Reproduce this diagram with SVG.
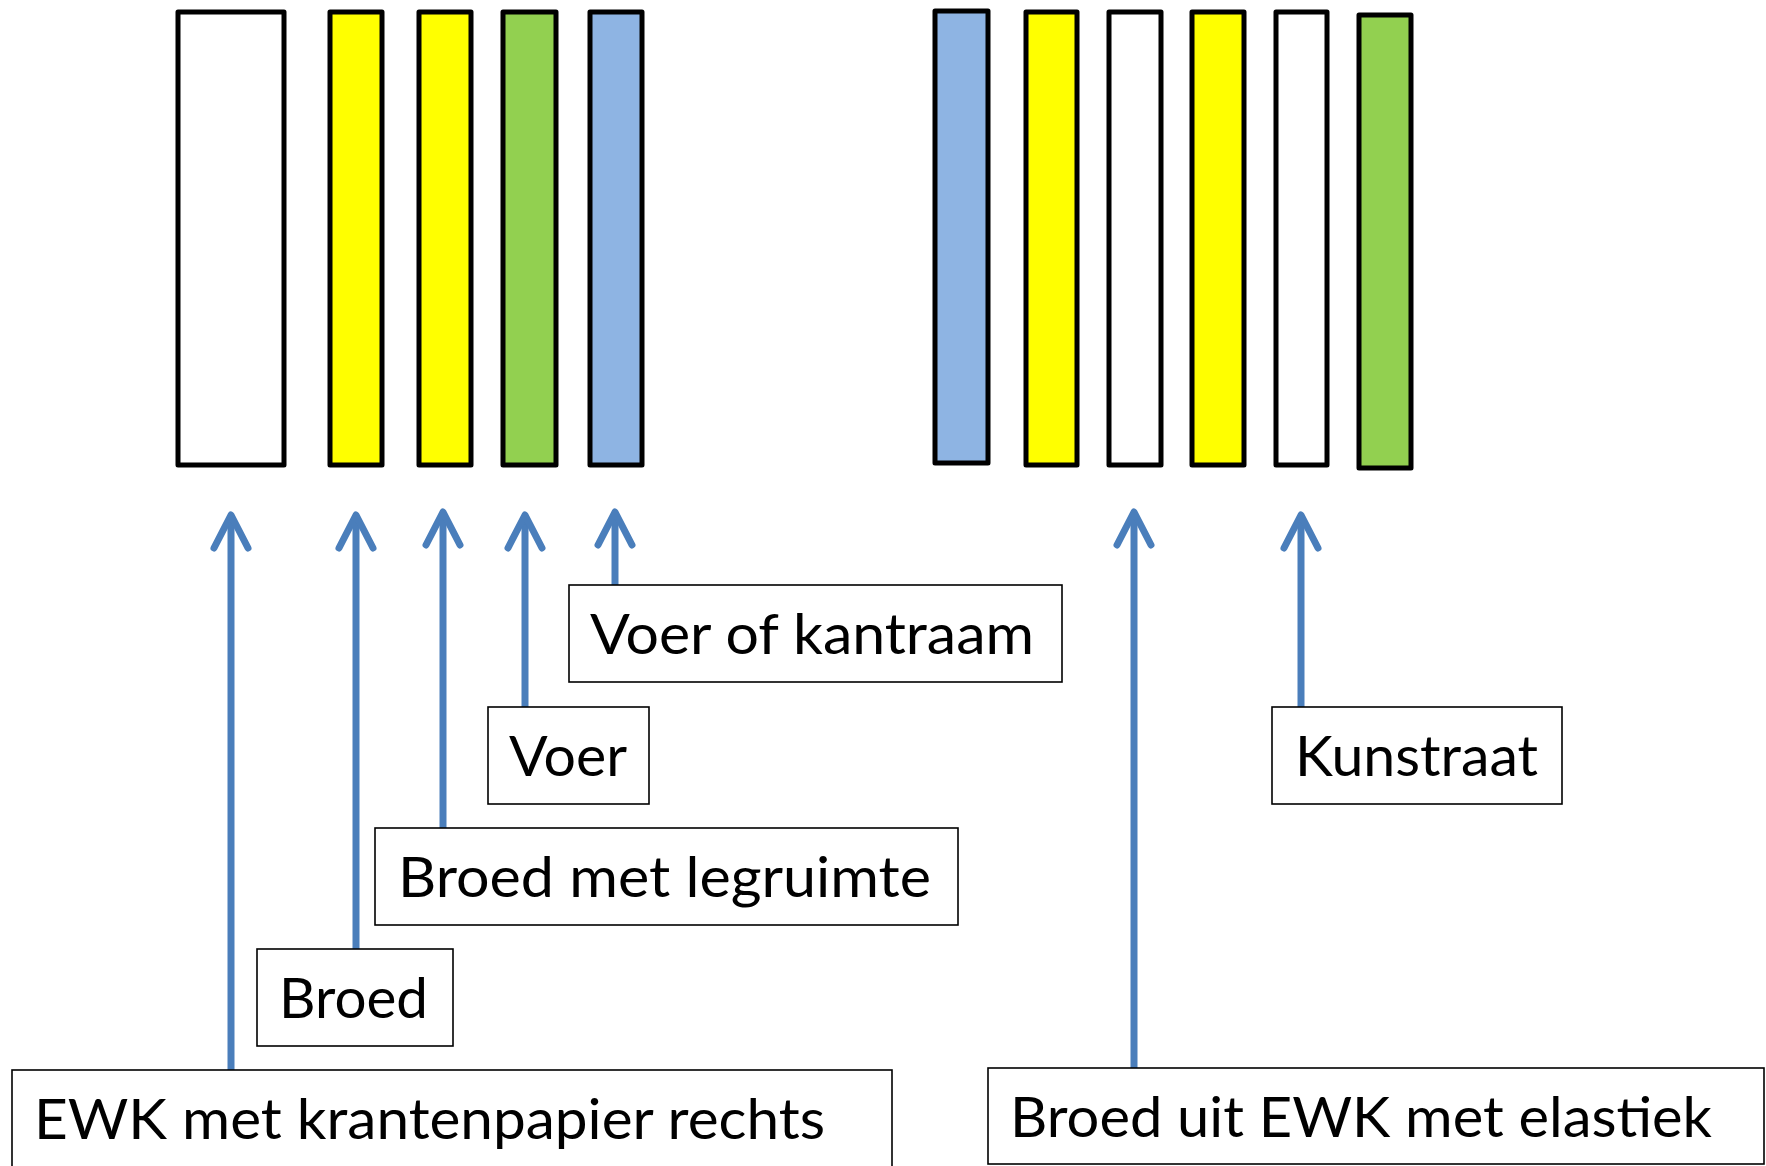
<svg xmlns="http://www.w3.org/2000/svg" width="1766" height="1166" viewBox="0 0 1766 1166">
<style>
.bar{stroke:#000;stroke-width:5;stroke-linejoin:round}
.w{fill:#fff}.y{fill:#ffff00}.g{fill:#92d050}.b{fill:#8eb4e3}
.box{fill:#fff;stroke:#000;stroke-width:1.6}
.lbl{font-family:Lato,"Open Sans","Liberation Sans",sans-serif;font-size:57px;fill:#000}
.arr{stroke:#4a7ebb;stroke-width:7;fill:none;marker-end:url(#head)}
</style>
<defs>
<marker id="head" markerUnits="userSpaceOnUse" viewBox="-45 -25 55 50" markerWidth="55" markerHeight="50" refX="0" refY="0" orient="auto" overflow="visible">
<path d="M-33,-17 L0,0 L-33,17" fill="none" stroke="#4a7ebb" stroke-width="7" stroke-linecap="round" stroke-linejoin="round"/>
</marker>
</defs>
<rect width="1766" height="1166" fill="#fff"/>
<g id="bars-left">
<rect id="bar-l1" class="bar w" x="178" y="12" width="106" height="453"/>
<rect id="bar-l2" class="bar y" x="330" y="12" width="52" height="453"/>
<rect id="bar-l3" class="bar y" x="419" y="12" width="52" height="453"/>
<rect id="bar-l4" class="bar g" x="503" y="12" width="53" height="453"/>
<rect id="bar-l5" class="bar b" x="590" y="12" width="52" height="453"/>
</g>
<g id="bars-right">
<rect id="bar-r1" class="bar b" x="935" y="11" width="53" height="452"/>
<rect id="bar-r2" class="bar y" x="1026" y="12" width="51" height="453"/>
<rect id="bar-r3" class="bar w" x="1109" y="12" width="52" height="453"/>
<rect id="bar-r4" class="bar y" x="1192" y="12" width="52" height="453"/>
<rect id="bar-r5" class="bar w" x="1276" y="12" width="51" height="453"/>
<rect id="bar-r6" class="bar g" x="1359" y="15" width="52" height="453"/>
</g>
<g id="connectors">
<line class="arr" x1="231" y1="1070" x2="231" y2="515"/>
<line class="arr" x1="356" y1="949" x2="356" y2="515"/>
<line class="arr" x1="443" y1="828" x2="443" y2="512"/>
<line class="arr" x1="525" y1="707" x2="525" y2="515"/>
<line class="arr" x1="615" y1="585" x2="615" y2="512"/>
<line class="arr" x1="1134" y1="1068" x2="1134" y2="512"/>
<line class="arr" x1="1301" y1="707" x2="1301" y2="515"/>
</g>
<g id="label-voer-kantraam">
<rect class="box" x="569" y="585" width="493" height="97"/>
<text class="lbl" x="590" y="654" textLength="444" lengthAdjust="spacingAndGlyphs">Voer of kantraam</text>
</g>
<g id="label-voer">
<rect class="box" x="488" y="707" width="161" height="97"/>
<text class="lbl" x="509" y="776" textLength="118" lengthAdjust="spacingAndGlyphs">Voer</text>
</g>
<g id="label-broed-legruimte">
<rect class="box" x="375" y="828" width="583" height="97"/>
<text class="lbl" x="398" y="897" textLength="533" lengthAdjust="spacingAndGlyphs">Broed met legruimte</text>
</g>
<g id="label-broed">
<rect class="box" x="257" y="949" width="196" height="97"/>
<text class="lbl" x="279" y="1018" textLength="149" lengthAdjust="spacingAndGlyphs">Broed</text>
</g>
<g id="label-ewk">
<rect class="box" x="12" y="1070" width="880" height="110"/>
<text class="lbl" x="34" y="1139" textLength="791" lengthAdjust="spacingAndGlyphs">EWK met krantenpapier rechts</text>
</g>
<g id="label-broed-uit-ewk">
<rect class="box" x="988" y="1068" width="776" height="96"/>
<text class="lbl" x="1010" y="1137" textLength="702" lengthAdjust="spacingAndGlyphs">Broed uit EWK met elastiek</text>
</g>
<g id="label-kunstraat">
<rect class="box" x="1272" y="707" width="290" height="97"/>
<text class="lbl" x="1295" y="776" textLength="243" lengthAdjust="spacingAndGlyphs">Kunstraat</text>
</g>
</svg>
